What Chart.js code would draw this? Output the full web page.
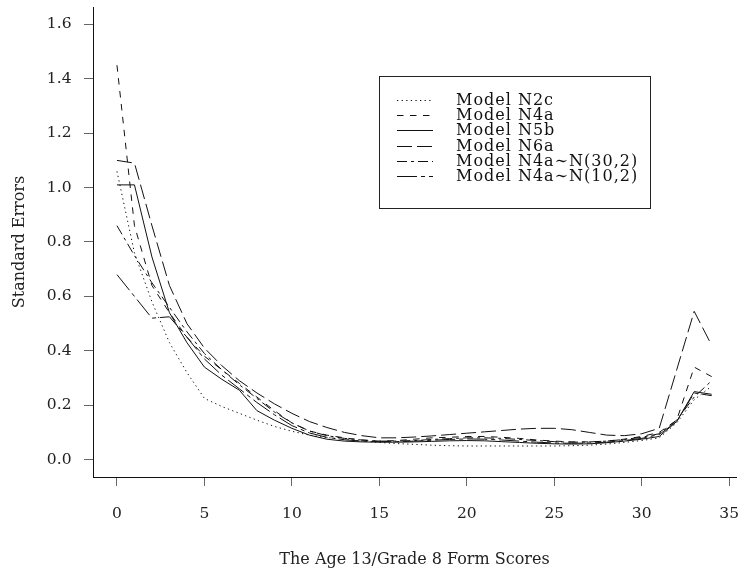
<!DOCTYPE html>
<html>
<head>
<meta charset="utf-8">
<title>Standard Errors</title>
<script src="https://cdn.jsdelivr.net/npm/chart.js@4/dist/chart.umd.min.js"></script>
<style>
  html, body { margin: 0; padding: 0; background: #fff; }
  #wrap { width: 738px; height: 571px; }
</style>
</head>
<body>
<div id="wrap"><canvas id="seChart" width="738" height="571"></canvas></div>
<script>
// form scores 0..34 and the standard errors of each model
const scores = [0, 1, 2, 3, 4, 5, 6, 7, 8, 9, 10, 11, 12, 13, 14, 15, 16, 17,
                18, 19, 20, 21, 22, 23, 24, 25, 26, 27, 28, 29, 30, 31, 32, 33, 34];

const seN2c = [1.06, 0.76, 0.58, 0.43, 0.32, 0.225, 0.195, 0.17, 0.145, 0.122, 0.104, 0.09,
               0.081, 0.074, 0.068, 0.063, 0.059, 0.056, 0.053, 0.051, 0.05, 0.05, 0.05, 0.05,
               0.05, 0.05, 0.051, 0.053, 0.057, 0.063, 0.07, 0.08, 0.135, 0.22, 0.27];
const seN4a = [1.45, 0.86, 0.64, 0.54, 0.45, 0.38, 0.33, 0.28, 0.23, 0.18, 0.135, 0.105,
               0.09, 0.08, 0.072, 0.068, 0.07, 0.075, 0.08, 0.082, 0.085, 0.085, 0.082, 0.078,
               0.072, 0.068, 0.065, 0.065, 0.068, 0.075, 0.085, 0.10, 0.145, 0.34, 0.305];
const seN5b = [1.01, 1.01, 0.745, 0.54, 0.43, 0.34, 0.295, 0.255, 0.18, 0.145, 0.115, 0.09,
               0.075, 0.068, 0.065, 0.064, 0.064, 0.065, 0.067, 0.069, 0.07, 0.069, 0.066, 0.063,
               0.06, 0.058, 0.057, 0.058, 0.062, 0.068, 0.075, 0.085, 0.14, 0.25, 0.24];
const seN6a = [1.10, 1.09, 0.86, 0.64, 0.50, 0.41, 0.345, 0.29, 0.245, 0.205, 0.17, 0.14,
               0.118, 0.10, 0.088, 0.08, 0.08, 0.083, 0.087, 0.092, 0.097, 0.102, 0.107, 0.112,
               0.115, 0.115, 0.11, 0.10, 0.09, 0.088, 0.095, 0.115, 0.33, 0.545, 0.42];
const seN4a30 = [0.86, 0.75, 0.65, 0.56, 0.47, 0.39, 0.33, 0.275, 0.225, 0.175, 0.135, 0.105,
                 0.088, 0.078, 0.072, 0.068, 0.068, 0.07, 0.074, 0.077, 0.08, 0.08, 0.078, 0.074,
                 0.07, 0.066, 0.064, 0.065, 0.068, 0.074, 0.082, 0.095, 0.145, 0.23, 0.29];
const seN4a10 = [0.68, 0.60, 0.52, 0.525, 0.45, 0.37, 0.31, 0.26, 0.21, 0.165, 0.125, 0.098,
                 0.082, 0.073, 0.068, 0.066, 0.066, 0.068, 0.071, 0.074, 0.076, 0.075, 0.072, 0.068,
                 0.064, 0.061, 0.06, 0.061, 0.064, 0.07, 0.078, 0.092, 0.14, 0.245, 0.235];

const modelNames = ["Model N2c", "Model N4a", "Model N5b", "Model N6a",
                    "Model N4a\u223CN(30,2)", "Model N4a\u223CN(10,2)"];
const xTicks = [0, 5, 10, 15, 20, 25, 30, 35];
const yTicks = [0, 0.2, 0.4, 0.6, 0.8, 1.0, 1.2, 1.4, 1.6];

const serif = "'DejaVu Serif', 'Liberation Serif', serif";
const lineDashes = [[1.3, 3.3], [6.5, 6.5], [], [15, 5], [10, 4, 3, 4], [20, 4, 4, 4]];
const seriesValues = [seN2c, seN4a, seN5b, seN6a, seN4a30, seN4a10];

function toPoints(vals) {
  return scores.map((s, i) => ({ x: s, y: vals[i] }));
}

const datasets = seriesValues.map((vals, i) => ({
  label: modelNames[i],
  data: toPoints(vals),
  borderColor: "#111",
  borderWidth: 1,
  borderDash: lineDashes[i],
  pointRadius: 0,
  fill: false,
  tension: 0
}));

// legend box inside the plot, drawn with the dataset dash patterns
const boxLegend = {
  id: "boxLegend",
  afterDraw(chart) {
    const ctx = chart.ctx;
    ctx.save();
    ctx.strokeStyle = "#222";
    ctx.lineWidth = 1;
    ctx.setLineDash([]);
    ctx.strokeRect(379.5, 76.5, 271, 132);
    ctx.font = "16px " + serif;
    ctx.letterSpacing = "1px";
    ctx.textBaseline = "middle";
    ctx.fillStyle = "#111";
    chart.data.datasets.forEach((ds, i) => {
      const y = Math.round(100 + 15.2 * i) + 0.5;
      ctx.setLineDash(ds.borderDash);
      ctx.strokeStyle = "#111";
      ctx.beginPath();
      ctx.moveTo(397, y);
      ctx.lineTo(433, y);
      ctx.stroke();
      ctx.fillText(ds.label, 456, y);
    });
    ctx.restore();
  }
};

// fixed axis boxes, no extra room for overhanging labels
function fitX(s) {
  s.height = 94;
  s.paddingLeft = 0;
  s.paddingRight = 0;
}
function fitY(s) {
  s.width = 93;
  s.paddingTop = 0;
  s.paddingBottom = 0;
}

new Chart(document.getElementById("seChart"), {
  type: "line",
  data: { datasets: datasets },
  plugins: [boxLegend],
  options: {
    responsive: false,
    animation: false,
    layout: { autoPadding: false, padding: { top: 7, right: 2, left: 0, bottom: 0 } },
    plugins: {
      legend: { display: false },
      tooltip: { enabled: false }
    },
    scales: {
      x: {
        type: "linear",
        min: -1.37,
        max: 35.39,
        afterBuildTicks: s => { s.ticks = xTicks.map(v => ({ value: v })); },
        afterFit: fitX,
        ticks: {
          color: "#222",
          padding: 18.5,
          font: { family: serif, size: 15.5 },
          callback: v => String(v)
        },
        grid: { drawOnChartArea: false, drawTicks: true, tickLength: 9, color: "#666" },
        border: { display: true, color: "#111", width: 1 },
        title: {
          display: true,
          text: "The Age 13/Grade 8 Form Scores",
          color: "#222",
          font: { family: serif, size: 16 },
          padding: { top: 0, bottom: 1.5 }
        }
      },
      y: {
        type: "linear",
        min: -0.064,
        max: 1.664,
        afterBuildTicks: s => { s.ticks = yTicks.map(v => ({ value: v })); },
        afterFit: fitY,
        ticks: {
          color: "#222",
          padding: 12.5,
          font: { family: serif, size: 15.5 },
          callback: v => v.toFixed(1)
        },
        grid: { drawOnChartArea: false, drawTicks: true, tickLength: 9, color: "#666" },
        border: { display: true, color: "#111", width: 1 },
        title: {
          display: true,
          text: "Standard Errors",
          color: "#222",
          font: { family: serif, size: 16 },
          padding: { top: 10, bottom: 0 }
        }
      }
    }
  }
});
</script>
</body>
</html>
